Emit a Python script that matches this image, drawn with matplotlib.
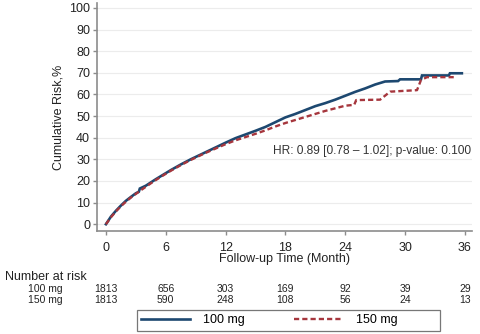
import numpy as np
import matplotlib.pyplot as plt
from matplotlib.lines import Line2D
import matplotlib.transforms as mtransforms

plt.rcParams['font.family'] = ['Liberation Sans', 'DejaVu Sans']

# cumulative risk (%)
t_100 = [0, 0.5, 1, 1.5, 2, 2.5, 3, 3.3, 3.4, 4, 4.5, 5, 5.5, 6, 6.5, 7, 7.5, 8, 8.5, 9, 9.5,
         10, 10.5, 11, 11.5, 12, 13, 14, 15, 16, 17, 18, 19, 20, 21, 22, 23, 24, 25, 26,
         27, 28, 29.3, 29.5, 31.6, 31.7, 34.4, 34.5, 35.7]
risk_100 = [0, 3.5, 6.2, 8.6, 10.8, 12.6, 14.3, 15.0, 16.5, 17.8, 19.3, 20.8, 22.2, 23.6,
            25.0, 26.3, 27.6, 28.8, 30.0, 31.1, 32.2, 33.3, 34.4, 35.5, 36.6, 37.7, 39.8,
            41.5, 43.2, 45.0, 47.2, 49.4, 51.0, 52.8, 54.6, 56.0, 57.6, 59.4, 61.2, 62.8,
            64.6, 66.0, 66.2, 67.0, 67.0, 68.8, 68.8, 69.8, 69.8]

t_150 = [0, 0.5, 1, 1.5, 2, 2.5, 3, 3.5, 4, 4.5, 5, 5.5, 6, 6.5, 7, 7.5, 8, 8.5, 9, 9.5,
         10, 10.5, 11, 11.5, 12, 13, 14, 15, 16, 17, 18, 19, 20, 21, 22, 23, 24, 24.9,
         25.1, 27.5, 28.5, 31.2, 31.6, 32.2, 35]
risk_150 = [0, 3.2, 5.9, 8.3, 10.4, 12.3, 14.0, 15.7, 17.3, 18.9, 20.4, 21.9, 23.3, 24.7,
            26.0, 27.3, 28.5, 29.7, 30.8, 31.9, 33.0, 34.0, 35.0, 36.0, 37.0, 38.8, 40.3,
            41.8, 43.4, 45.2, 46.8, 48.2, 49.6, 51.0, 52.4, 53.6, 54.8, 55.2, 57.4, 57.6,
            61.3, 62.0, 66.7, 68.0, 68.0]

risk_times = [0, 6, 12, 18, 24, 30, 36]
at_risk_100 = [1813, 656, 303, 169, 92, 39, 29]
at_risk_150 = [1813, 590, 248, 108, 56, 24, 13]

hr_text = "HR: 0.89 [0.78 \u2013 1.02]; p-value: 0.100"

blue = '#1d4870'
red = '#a6363d'
grey = '#8c8c8c'

fig = plt.figure(figsize=(4.8, 3.34), dpi=100)
ax = fig.add_axes([0.202, 0.308, 0.781, 0.683])

ax.plot(t_100, risk_100, color=blue, lw=1.9, solid_joinstyle='miter')
ax.plot(t_150, risk_150, color=red, lw=1.7, dashes=(2.2, 1.3))

ax.set_xlim(-0.9, 36.7)
ax.set_ylim(-3.2, 102.3)
ax.set_xticks(risk_times)
ax.set_yticks(np.arange(0, 101, 10))
for y in np.arange(0, 101, 10):
    ax.axhline(y, color='#ececec', lw=0.8, zorder=0)

for s in ['top', 'right']:
    ax.spines[s].set_visible(False)
for s in ['left', 'bottom']:
    ax.spines[s].set_color(grey)
    ax.spines[s].set_linewidth(1.2)
ax.tick_params(axis='y', direction='out', length=3, width=1, color=grey, pad=2,
               labelsize=9, labelcolor='#222222')
ax.tick_params(axis='x', direction='out', length=3, width=1, color=grey, pad=5,
               labelsize=9, labelcolor='#222222')

ax.set_xlabel("Follow-up Time (Month)", fontsize=9, color='#222222')
ax.xaxis.set_label_coords(0.5, -0.095)
ax.set_ylabel("Cumulative Risk,%", fontsize=9, color='#222222')
ax.yaxis.set_label_coords(-0.087, 0.5)

ax.text(0.997, 0.35, hr_text, transform=ax.transAxes, ha='right', va='center',
        fontsize=8.6, color='#333333')

# number at risk table
trans = mtransforms.blended_transform_factory(ax.transData, fig.transFigure)
fig.text(0.01, 0.17, "Number at risk", fontsize=9, va='center', ha='left', color='#222222')
fig.text(0.13, 0.135, "100 mg", fontsize=7.5, va='center', ha='right', color='#222222')
fig.text(0.13, 0.102, "150 mg", fontsize=7.5, va='center', ha='right', color='#222222')
for t, n1, n2 in zip(risk_times, at_risk_100, at_risk_150):
    ax.text(t, 0.135, str(n1), transform=trans, fontsize=7.5, ha='center', va='center',
            color='#222222', clip_on=False)
    ax.text(t, 0.102, str(n2), transform=trans, fontsize=7.5, ha='center', va='center',
            color='#222222', clip_on=False)

handles = [Line2D([], [], color=blue, lw=1.9),
           Line2D([], [], color=red, lw=1.7, dashes=(2.2, 1.3))]
leg = fig.legend(handles, ['100 mg', '150 mg' + ' ' * 11], loc='upper left', ncol=2,
                 bbox_to_anchor=(137 / 480, 1 - 310 / 334), fontsize=9, frameon=True,
                 fancybox=False, handlelength=3.9, columnspacing=4.0, handletextpad=1.0,
                 borderpad=0.35, borderaxespad=0)
leg.get_frame().set_edgecolor('#555555')
leg.get_frame().set_linewidth(0.9)

fig.savefig('out.png', dpi=100)
